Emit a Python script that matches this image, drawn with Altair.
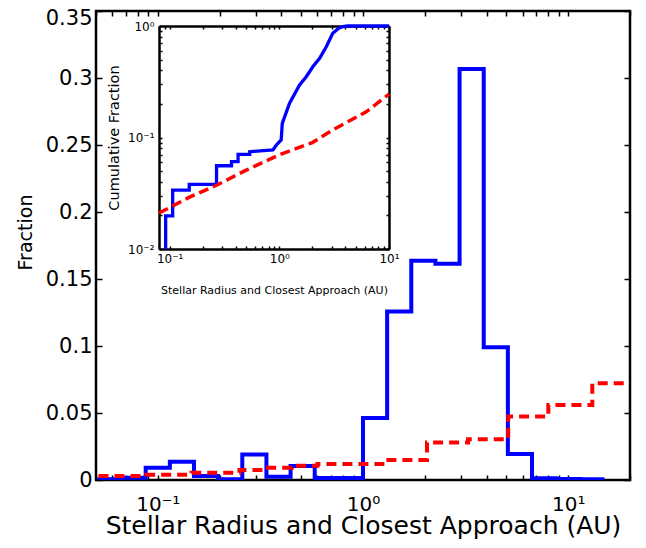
import altair as alt
import pandas as pd

# ---- main panel: histogram of closest approach (blue), log-spaced bins ----
hist_edges = [0.0508, 0.0666, 0.0873, 0.1145, 0.1501, 0.1968, 0.2581, 0.3384, 0.4437,
              0.5817, 0.7627, 1.0, 1.311, 1.719, 2.254, 2.955, 3.875, 5.081, 6.661,
              8.733, 11.45, 15.01]
hist_frac = [0.0005, 0.0017, 0.0092, 0.0137, 0.003, 0.0005, 0.019, 0.0025, 0.0105,
             0.0015, 0.0015, 0.0463, 0.1257, 0.1636, 0.1614, 0.3068, 0.0991, 0.0194,
             0.0013, 0.0008, 0.0005]

# ---- main panel: stellar radius distribution (red dashed) ----
stellar_edges = [0.03, 0.088, 0.146, 0.25, 0.33, 0.45, 0.6, 1.3, 2.05, 3.25, 5.1, 8.0, 13.1, 30.0]
stellar_frac = [0.003, 0.004, 0.0054, 0.0075, 0.0092, 0.0107, 0.012, 0.015, 0.0279,
                0.0304, 0.0473, 0.056, 0.0722]

# ---- inset: cumulative fractions ----
cum_approach_x = [0.092, 0.092, 0.1066, 0.1066, 0.151, 0.151, 0.2677, 0.2677, 0.3664, 0.3664,
                  0.4207, 0.4207, 0.537, 0.537, 0.875, 0.94, 1.04, 1.064, 1.24, 1.53, 1.76,
                  2.02, 2.33, 2.68, 3.07, 3.5, 3.79, 4.2, 10.0]
cum_approach_y = [0.01, 0.0198, 0.0198, 0.0338, 0.0338, 0.038, 0.038, 0.0558, 0.0558, 0.0607,
                  0.0607, 0.0707, 0.0707, 0.0746, 0.0773, 0.0857, 0.095, 0.134, 0.203, 0.296,
                  0.351, 0.431, 0.513, 0.652, 0.86, 0.96, 0.986, 1.0, 1.0]
cum_stellar_x = [0.08, 0.15, 0.27, 0.5, 1.0, 2.0, 3.07, 6.2, 10.0]
cum_stellar_y = [0.021, 0.029, 0.0375, 0.051, 0.07, 0.09, 0.117, 0.17, 0.245]

# ---- tick values ----
main_x_major = [0.1, 1, 10]
main_x_ticks = [0.05, 0.06, 0.07, 0.08, 0.09, 0.1, 0.2, 0.3, 0.4, 0.5, 0.6, 0.7, 0.8, 0.9,
                1, 2, 3, 4, 5, 6, 7, 8, 9, 10, 20]
main_y_ticks = [0, 0.05, 0.1, 0.15, 0.2, 0.25, 0.3, 0.35]
inset_x_major = [0.1, 1, 10]
inset_x_ticks = [0.08, 0.09, 0.1, 0.2, 0.3, 0.4, 0.5, 0.6, 0.7, 0.8, 0.9,
                 1, 2, 3, 4, 5, 6, 7, 8, 9, 10]
inset_y_major = [0.01, 0.1, 1]
inset_y_ticks = [0.01, 0.02, 0.03, 0.04, 0.05, 0.06, 0.07, 0.08, 0.09,
                 0.1, 0.2, 0.3, 0.4, 0.5, 0.6, 0.7, 0.8, 0.9, 1]

W, H = 534, 469
IX0, IX1 = 63, 293     # inset horizontal range inside plot area
IYB, IYT = 238, 15     # inset vertical range (bottom, top)


def step_df(edges, vals):
    return pd.DataFrame({"x": edges, "y": list(vals) + [vals[-1]], "i": list(range(len(edges)))})


hist_df = step_df(hist_edges, hist_frac)
stellar_df = step_df(stellar_edges, stellar_frac)
cum_a_df = pd.DataFrame({"x": cum_approach_x, "y": cum_approach_y, "i": list(range(len(cum_approach_x)))})
cum_s_df = pd.DataFrame({"x": cum_stellar_x, "y": cum_stellar_y, "i": list(range(len(cum_stellar_x)))})

FONT = "DejaVu Sans"
main_xs = alt.Scale(type="log", domain=[0.05, 20], nice=False)
main_ys = alt.Scale(domain=[0, 0.35], nice=False, zero=False)
ins_xs = alt.Scale(type="log", domain=[0.08, 10], range=[IX0, IX1], nice=False)
ins_ys = alt.Scale(type="log", domain=[0.01, 1], range=[IYB, IYT], nice=False)

exp_x = "datum.value < 0.5 ? '10\u207b\u00b9' : (datum.value < 5 ? '10\u2070' : '10\u00b9')"
exp_y = "datum.value < 0.05 ? '10\u207b\u00b2' : (datum.value < 0.5 ? '10\u207b\u00b9' : '10\u2070')"


def tick_axis(orient, offset, values, size, domain=False):
    return alt.Axis(orient=orient, offset=offset, values=values, labels=False, ticks=True,
                    tickSize=size, tickWidth=1.5, tickColor="black", domain=domain,
                    domainColor="black", domainWidth=2.5, grid=False)


# ---------------- main panel ----------------
m1 = alt.Chart(hist_df).mark_line(interpolate="step-after", color="#0000ff", strokeWidth=4, clip=True).encode(
    x=alt.X("x:Q", scale=main_xs, title="Stellar Radius and Closest Approach (AU)",
            axis=alt.Axis(orient="bottom", values=main_x_major, labelExpr=exp_x, ticks=False, tickSize=0,
                          domain=False, grid=False, labelFont=FONT, labelFontSize=20, labelColor="black",
                          labelPadding=14, labelFlush=False, labelOverlap=False,
                          titleFont=FONT, titleFontSize=25, titleFontWeight="normal", titleColor="black",
                          titleY=53, titleBaseline="alphabetic")),
    y=alt.Y("y:Q", scale=main_ys, title="Fraction",
            axis=alt.Axis(orient="left", values=main_y_ticks, format=".2~f", ticks=False, tickSize=0,
                          domain=False, grid=False, labelFont=FONT, labelFontSize=21, labelColor="black",
                          labelPadding=4, labelFlush=False, labelOverlap=False,
                          labelOffset={"condition": {"test": "datum.value > 0.34", "value": 7}, "value": 0},
                          titleFont=FONT, titleFontSize=19, titleFontWeight="normal", titleColor="black",
                          titleX=-71, titleY=221, titleAngle=270, titleBaseline="middle", titleAlign="center")),
    order="i:Q",
)

m2 = alt.Chart(stellar_df).mark_line(interpolate="step-after", color="#ff0000", strokeWidth=4,
                                     strokeDash=[10, 6], clip=True).encode(
    x=alt.X("x:Q", scale=main_xs, title=None, axis=tick_axis("top", -H, main_x_ticks, 5)),
    y=alt.Y("y:Q", scale=main_ys, title=None, axis=tick_axis("right", -W, main_y_ticks, 6)),
    order="i:Q",
)

m3 = alt.Chart(hist_df).mark_line(interpolate="step-after", strokeOpacity=0, clip=True).encode(
    x=alt.X("x:Q", scale=main_xs, title=None, axis=tick_axis("bottom", -H, main_x_ticks, 5)),
    y=alt.Y("y:Q", scale=main_ys, title=None, axis=tick_axis("left", -W, main_y_ticks, 6)),
    order="i:Q",
)

main = alt.layer(m1, m2, m3).resolve_axis(x="independent", y="independent")

# ---------------- inset ----------------
i1 = alt.Chart(cum_a_df).mark_line(color="#0000ff", strokeWidth=3.3).encode(
    x=alt.X("x:Q", scale=ins_xs, title="Stellar Radius and Closest Approach (AU)",
            axis=alt.Axis(orient="bottom", offset=-(H - IYB), values=inset_x_major, labelExpr=exp_x,
                          ticks=False, tickSize=0, domain=True, domainColor="black", domainWidth=2.5,
                          grid=False, labelFont=FONT, labelFontSize=12, labelColor="black", labelPadding=4,
                          labelFlush=False, labelOverlap=False,
                          titleFont=FONT, titleFontSize=11, titleFontWeight="normal", titleColor="black",
                          titleY=41, titleBaseline="middle")),
    y=alt.Y("y:Q", scale=ins_ys, title="Cumulative Fraction",
            axis=alt.Axis(orient="left", offset=-IX0, values=inset_y_major, labelExpr=exp_y,
                          ticks=False, tickSize=0, domain=True, domainColor="black", domainWidth=2.5,
                          grid=False, labelFont=FONT, labelFontSize=12, labelColor="black", labelPadding=5,
                          labelFlush=False, labelOverlap=False,
                          titleFont=FONT, titleFontSize=14.5, titleFontWeight="normal", titleColor="black",
                          titleX=-45, titleAngle=270, titleBaseline="middle", titleAlign="center")),
    order="i:Q",
)

i2 = alt.Chart(cum_s_df).mark_line(color="#ff0000", strokeWidth=3.5, strokeDash=[10, 5]).encode(
    x=alt.X("x:Q", scale=ins_xs, title=None, axis=tick_axis("top", -IYB, inset_x_ticks, 3)),
    y=alt.Y("y:Q", scale=ins_ys, title=None, axis=tick_axis("right", -(W - IX0), inset_y_ticks, 3)),
    order="i:Q",
)

i3 = alt.Chart(cum_s_df).mark_line(strokeOpacity=0).encode(
    x=alt.X("x:Q", scale=ins_xs, title=None, axis=tick_axis("bottom", -(H - IYT), inset_x_ticks, 3, domain=True)),
    y=alt.Y("y:Q", scale=ins_ys, title=None, axis=tick_axis("left", -IX1, inset_y_ticks, 3, domain=True)),
    order="i:Q",
)

inset = alt.layer(i1, i2, i3).resolve_axis(x="independent", y="independent")

chart = (
    alt.layer(main, inset)
    .resolve_scale(x="independent", y="independent")
    .properties(width=W, height=H, padding={"left": 88, "top": 3, "right": 8, "bottom": 60},
                autosize=alt.AutoSizeParams(type="none"), background="white")
    .configure_view(stroke="black", strokeWidth=2.5)
)

chart.save("out.html", embed_options={"renderer": "svg", "actions": False})
